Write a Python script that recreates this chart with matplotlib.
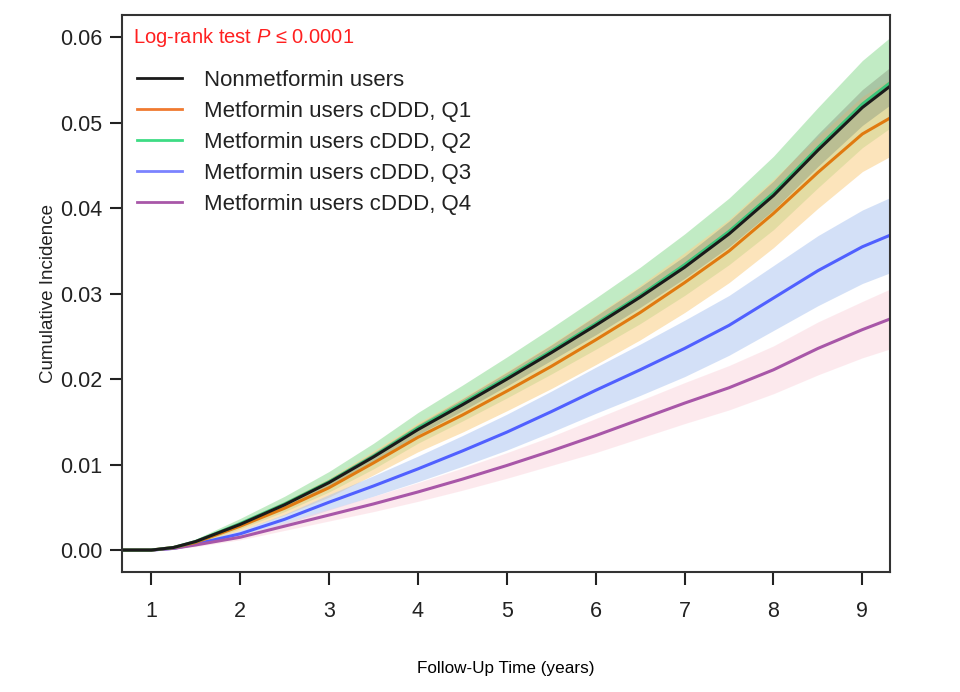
import numpy as np
import matplotlib
matplotlib.use("Agg")
import matplotlib.pyplot as plt

plt.rcParams['font.family'] = ['Liberation Sans', 'DejaVu Sans']
plt.rcParams['mathtext.fontset'] = 'custom'
plt.rcParams['mathtext.it'] = 'Liberation Sans:italic'
plt.rcParams['mathtext.rm'] = 'Liberation Sans'

# follow-up time (years)
times = [0.67, 1.0, 1.25, 1.5, 2.0, 2.5, 3.0, 3.5, 4.0, 4.5, 5.0, 5.5, 6.0, 6.5, 7.0, 7.5, 8.0, 8.5, 9.0, 9.3]

# cumulative incidence
non_users = [0, 0, 0.0003, 0.0010, 0.0030, 0.0053, 0.0079, 0.0109, 0.0141, 0.0170, 0.0200,
             0.0231, 0.0263, 0.0296, 0.0331, 0.0370, 0.0415, 0.0468, 0.0518, 0.0542]
q1 = [0, 0, 0.0003, 0.0009, 0.0028, 0.0049, 0.0073, 0.0102, 0.0132, 0.0158, 0.0186,
      0.0215, 0.0246, 0.0278, 0.0313, 0.0350, 0.0394, 0.0442, 0.0487, 0.0505]
q2 = [0, 0, 0.0003, 0.0010, 0.0031, 0.0054, 0.0080, 0.0110, 0.0143, 0.0172, 0.0202,
      0.0233, 0.0265, 0.0298, 0.0334, 0.0373, 0.0418, 0.0471, 0.0522, 0.0546]
q3 = [0, 0, 0.0002, 0.0007, 0.0019, 0.0036, 0.0056, 0.0075, 0.0095, 0.0116, 0.0138,
      0.0162, 0.0187, 0.0211, 0.0236, 0.0263, 0.0295, 0.0327, 0.0355, 0.0368]
q4 = [0, 0, 0.0002, 0.0006, 0.0015, 0.0028, 0.0041, 0.0054, 0.0068, 0.0083, 0.0099,
      0.0116, 0.0134, 0.0153, 0.0172, 0.0190, 0.0211, 0.0236, 0.0258, 0.0270]

# 95% CI half widths
non_users_hw = [0, 0, 0.0001, 0.0001, 0.0002, 0.0003, 0.0004, 0.0005, 0.0006, 0.0007, 0.0008,
                0.0009, 0.0011, 0.0012, 0.0013, 0.0015, 0.0017, 0.0019, 0.0021, 0.0022]
q1_hw = [0, 0, 0.0001, 0.0002, 0.0005, 0.0008, 0.0011, 0.0014, 0.0017, 0.0020, 0.0023,
         0.0026, 0.0029, 0.0032, 0.0035, 0.0037, 0.0040, 0.0042, 0.0044, 0.0045]
q2_hw = [0, 0, 0.0001, 0.0003, 0.0006, 0.0009, 0.0012, 0.0015, 0.0018, 0.0021, 0.0024,
         0.0027, 0.0030, 0.0033, 0.0036, 0.0039, 0.0043, 0.0047, 0.0051, 0.0053]
q3_hw = [0, 0, 0.0001, 0.0002, 0.0004, 0.0006, 0.0009, 0.0012, 0.0015, 0.0018, 0.0021,
         0.0024, 0.0027, 0.0030, 0.0033, 0.0035, 0.0038, 0.0041, 0.0043, 0.0044]
q4_hw = [0, 0, 0.0001, 0.0002, 0.0003, 0.0005, 0.0007, 0.0009, 0.0011, 0.0013, 0.0015,
         0.0017, 0.0020, 0.0022, 0.0024, 0.0026, 0.0028, 0.0031, 0.0033, 0.0035]

labels = ['Nonmetformin users', 'Metformin users cDDD, Q1', 'Metformin users cDDD, Q2',
          'Metformin users cDDD, Q3', 'Metformin users cDDD, Q4']
x_ticks = [1, 2, 3, 4, 5, 6, 7, 8, 9]
y_ticks = [0.00, 0.01, 0.02, 0.03, 0.04, 0.05, 0.06]

series = [non_users, q1, q2, q3, q4]
half_widths = [non_users_hw, q1_hw, q2_hw, q3_hw, q4_hw]
line_colors = ['#1a1a1a', '#e07a10', '#3cc47a', '#5060ff', '#a857a8']
band_colors = ['#8a9a80', '#fbd28e', '#8fdc95', '#a9c3f0', '#fbd5dd']
band_alpha = [0.45, 0.6, 0.55, 0.5, 0.5]
draw_order = [2, 1, 3, 4, 0]

fig = plt.figure(figsize=(9.6, 6.92), dpi=100)
ax = fig.add_axes([0.127, 0.173, 0.8, 0.805])

t = np.array(times)
for i in draw_order:
    est = np.array(series[i])
    hw = np.array(half_widths[i])
    ax.fill_between(t, est - hw, est + hw, color=band_colors[i], alpha=band_alpha[i], lw=0)

for i in [3, 4, 1, 2, 0]:
    ax.plot(t, series[i], color=line_colors[i], lw=2.2)
handles = [plt.Line2D([], [], color=c, lw=2) for c in ['#1a1a1a', '#f07a30', '#3ddc84', '#7b83ff', '#a857a8']]

ax.set_xlim(0.67, 9.31)
ax.set_ylim(-0.0026, 0.0626)
ax.set_xticks(x_ticks)
ax.set_yticks(y_ticks)
ax.set_yticklabels([f'{v:.2f}' for v in y_ticks])
ax.tick_params(direction='out', length=9, width=1.5, labelsize=15.5, color='#222222',
               labelcolor='#222222')
ax.tick_params(axis='x', pad=12)
ax.tick_params(axis='y', pad=5)
for s in ax.spines.values():
    s.set_linewidth(1.5)
    s.set_color('#333333')

ax.set_xlabel('Follow-Up Time (years)', fontsize=12.3, labelpad=28)
ax.set_ylabel('Cumulative Incidence', fontsize=13.5, labelpad=2, color='#222222')

ax.text(0.014, 0.96, r'Log-rank test $\it{P}$ ≤ 0.0001', color='#ff2020', fontsize=14.5,
        transform=ax.transAxes, va='center', ha='left')
leg = ax.legend(handles, labels, loc='upper left', bbox_to_anchor=(0.0, 0.93), frameon=False,
                fontsize=16, handlelength=2.0, handletextpad=1.0, labelspacing=0.45,
                borderaxespad=0.3)
for txt in leg.get_texts():
    txt.set_color('#222222')

fig.savefig('out.png', dpi=100, facecolor='white')
